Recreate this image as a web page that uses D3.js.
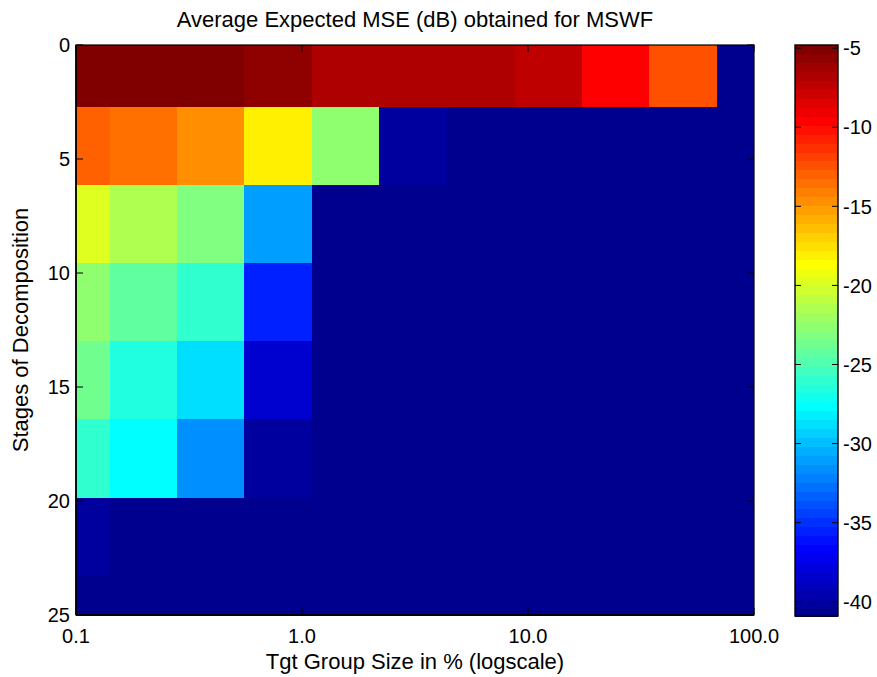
<!DOCTYPE html>
<html>
<head>
<meta charset="utf-8">
<script src="https://cdn.jsdelivr.net/npm/d3@7"></script>
<style>
  html, body { margin: 0; padding: 0; background: #fff; }
  svg { display: block; font-family: "Liberation Sans", Arial, Helvetica, sans-serif; }
</style>
</head>
<body>
<svg id="chart" width="877" height="677"></svg>
<script>
// Target group sizes (% of population, log axis) — column centres
const groupSizes = [0.1, 0.2, 0.39, 0.78, 1.56, 3.1, 6.2, 12.3, 24.4, 48.6, 96.6];
// Stages of decomposition — row centres
const stages = [1, 4.43, 7.86, 11.29, 14.71, 18.14, 21.57, 25];
// Average expected MSE in dB, one row per stage, one column per group size
const mseRow1 = [-4.8, -4.9, -5.1, -5.6, -6.8, -6.7, -6.9, -7.3, -9.6, -12.4, -40.6];
const mseRow2 = [-13.0, -13.5, -14.7, -18.0, -22.6, -40.0, -40.5, -40.6, -40.7, -40.6, -40.8];
const mseRow3 = [-19.7, -21.4, -23.1, -31.0, -40.5, -40.6, -40.7, -40.7, -40.8, -40.8, -40.8];
const mseRow4 = [-22.5, -24.2, -25.9, -35.5, -40.5, -40.6, -40.7, -40.8, -40.8, -40.8, -40.9];
const mseRow5 = [-23.7, -26.5, -28.8, -38.4, -40.6, -40.6, -40.7, -40.8, -40.8, -40.8, -40.9];
const mseRow6 = [-26.0, -27.6, -31.6, -40.0, -40.6, -40.7, -40.7, -40.8, -40.8, -40.9, -40.9];
const mseRow7 = [-40.1, -40.5, -40.6, -40.6, -40.7, -40.7, -40.8, -40.8, -40.8, -40.9, -40.9];
const mseRow8 = [-40.4, -40.6, -40.6, -40.7, -40.7, -40.8, -40.8, -40.8, -40.9, -40.9, -40.9];
const mse = [mseRow1, mseRow2, mseRow3, mseRow4, mseRow5, mseRow6, mseRow7, mseRow8];

const xTicks = [0.1, 1, 10, 100];
const xTickLabels = ["0.1", "1.0", "10.0", "100.0"];
const yTicks = [0, 5, 10, 15, 20, 25];
const cTicks = [-5, -10, -15, -20, -25, -30, -35, -40];

const titleText = "Average Expected MSE (dB) obtained for MSWF";
const xLabelText = "Tgt Group Size in % (logscale)";
const yLabelText = "Stages of Decomposition";

// ---- jet colormap, 64 entries ----
function jetMap(m) {
  const n = Math.ceil(m / 4);
  const u = [];
  for (let k = 1; k <= n; k++) u.push(k / n);
  for (let k = 1; k < n; k++) u.push(1);
  for (let k = n; k >= 1; k--) u.push(k / n);
  const g0 = Math.ceil(n / 2) - (m % 4 === 1 ? 1 : 0);
  const J = d3.range(m).map(() => [0, 0, 0]);
  u.forEach((val, k) => {
    const gi = g0 + k + 1, ri = gi + n, bi = gi - n;
    if (ri >= 1 && ri <= m) J[ri - 1][0] = val;
    if (gi >= 1 && gi <= m) J[gi - 1][1] = val;
    if (bi >= 1 && bi <= m) J[bi - 1][2] = val;
  });
  return J.map(c => d3.rgb(Math.round(c[0] * 255), Math.round(c[1] * 255), Math.round(c[2] * 255)).formatHex());
}
const cmap = jetMap(64);
const allVals = mse.flat();
const cmin = d3.min(allVals), cmax = d3.max(allVals);
function colorOf(v) {
  let idx = Math.floor((v - cmin) / (cmax - cmin) * cmap.length);
  idx = Math.max(0, Math.min(cmap.length - 1, idx));
  return cmap[idx];
}

// ---- layout ----
const plot = { left: 76, right: 754, top: 45, bottom: 615 };
const cbar = { left: 795, right: 838, top: 45, bottom: 616 };
const FS = 20;      // tick labels
const LFS = 22;     // title and axis labels

const svg = d3.select("#chart");
const x = d3.scaleLog().domain([0.1, 100]).range([plot.left, plot.right]);
const y = d3.scaleLinear().domain([0, 25]).range([plot.top, plot.bottom]);

// cell edges: geometric midpoints along x, arithmetic along y
function edgesLog(c) {
  const e = [];
  e.push(c[0] / Math.sqrt(c[1] / c[0]));
  for (let i = 0; i < c.length - 1; i++) e.push(Math.sqrt(c[i] * c[i + 1]));
  e.push(c[c.length - 1] * Math.sqrt(c[c.length - 1] / c[c.length - 2]));
  return e;
}
function edgesLin(c) {
  const e = [];
  e.push(c[0] - (c[1] - c[0]) / 2);
  for (let i = 0; i < c.length - 1; i++) e.push((c[i] + c[i + 1]) / 2);
  e.push(c[c.length - 1] + (c[c.length - 1] - c[c.length - 2]) / 2);
  return e;
}
const xe = edgesLog(groupSizes);
const ye = edgesLin(stages);

svg.append("defs").append("clipPath").attr("id", "plotClip")
  .append("rect")
  .attr("x", plot.left).attr("y", plot.top)
  .attr("width", plot.right - plot.left).attr("height", plot.bottom - plot.top);

const cells = [];
mse.forEach((row, r) => row.forEach((v, c) => cells.push({ r, c, v })));

svg.append("g").attr("clip-path", "url(#plotClip)")
  .selectAll("rect").data(cells).join("rect")
  .attr("shape-rendering", "crispEdges")
  .attr("x", d => x(xe[d.c]))
  .attr("width", d => x(xe[d.c + 1]) - x(xe[d.c]))
  .attr("y", d => y(ye[d.r]))
  .attr("height", d => y(ye[d.r + 1]) - y(ye[d.r]))
  .attr("fill", d => colorOf(d.v));

// axes box
const TL = 7;
const axisG = svg.append("g").attr("stroke", "#000").attr("fill", "none");
axisG.append("rect")
  .attr("x", plot.left).attr("y", plot.top)
  .attr("width", plot.right - plot.left).attr("height", plot.bottom - plot.top)
  .attr("stroke-width", 1.2);
axisG.append("line").attr("x1", plot.left).attr("x2", plot.right)
  .attr("y1", plot.bottom).attr("y2", plot.bottom).attr("stroke-width", 2);
axisG.append("line").attr("x1", plot.left).attr("x2", plot.left)
  .attr("y1", plot.top).attr("y2", plot.bottom).attr("stroke-width", 1.6);

// x ticks (bottom and top, pointing inward)
xTicks.forEach(t => {
  const px = x(t);
  axisG.append("line").attr("x1", px).attr("x2", px).attr("y1", plot.bottom).attr("y2", plot.bottom - TL);
  axisG.append("line").attr("x1", px).attr("x2", px).attr("y1", plot.top).attr("y2", plot.top + TL);
});
// y ticks (left and right)
yTicks.forEach(t => {
  const py = y(t);
  axisG.append("line").attr("x1", plot.left).attr("x2", plot.left + TL).attr("y1", py).attr("y2", py);
  axisG.append("line").attr("x1", plot.right).attr("x2", plot.right - TL).attr("y1", py).attr("y2", py);
});

// tick labels
svg.append("g").selectAll("text").data(xTicks).join("text")
  .attr("x", d => x(d)).attr("y", 643)
  .attr("text-anchor", "middle").attr("font-size", FS)
  .text((d, i) => xTickLabels[i]);

svg.append("g").selectAll("text").data(yTicks).join("text")
  .attr("x", 70).attr("y", d => y(d))
  .attr("dy", "0.36em")
  .attr("text-anchor", "end").attr("font-size", FS)
  .text(d => d);

// title and axis labels
svg.append("text").attr("x", (plot.left + plot.right) / 2).attr("y", 27)
  .attr("text-anchor", "middle").attr("font-size", LFS).text(titleText);
svg.append("text").attr("x", (plot.left + plot.right) / 2).attr("y", 669)
  .attr("text-anchor", "middle").attr("font-size", LFS).text(xLabelText);
svg.append("text")
  .attr("transform", `translate(28, ${(plot.top + plot.bottom) / 2}) rotate(-90)`)
  .attr("text-anchor", "middle").attr("font-size", LFS).text(yLabelText);

// ---- colorbar ----
const cy = d3.scaleLinear().domain([cmin, cmax]).range([cbar.bottom, cbar.top]);
const step = (cmax - cmin) / cmap.length;
svg.append("g").selectAll("rect").data(cmap).join("rect")
  .attr("shape-rendering", "crispEdges")
  .attr("x", cbar.left).attr("width", cbar.right - cbar.left)
  .attr("y", (d, i) => cy(cmin + (i + 1) * step))
  .attr("height", (d, i) => cy(cmin + i * step) - cy(cmin + (i + 1) * step) + 0.5)
  .attr("fill", d => d);

const cbG = svg.append("g").attr("stroke", "#000").attr("fill", "none");
cbG.append("rect").attr("x", cbar.left).attr("y", cbar.top)
  .attr("width", cbar.right - cbar.left).attr("height", cbar.bottom - cbar.top)
  .attr("stroke-width", 1.4);
const CTL = 6;
cTicks.forEach(t => {
  const py = cy(t);
  cbG.append("line").attr("x1", cbar.left).attr("x2", cbar.left + CTL).attr("y1", py).attr("y2", py);
  cbG.append("line").attr("x1", cbar.right).attr("x2", cbar.right - CTL).attr("y1", py).attr("y2", py);
});
svg.append("g").selectAll("text").data(cTicks).join("text")
  .attr("x", cbar.right + 5).attr("y", d => cy(d))
  .attr("dy", "0.36em").attr("font-size", FS)
  .text(d => d);
</script>
</body>
</html>
